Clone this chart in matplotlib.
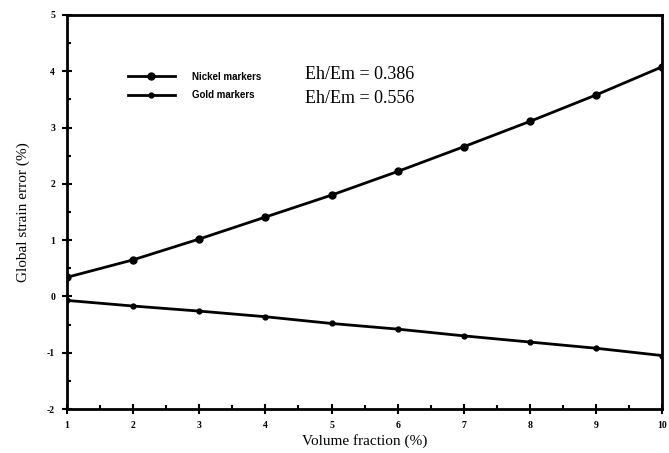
import numpy as np
import matplotlib.pyplot as plt
from matplotlib.ticker import MultipleLocator

plt.rcParams['axes.unicode_minus'] = False

# Data
volume_fraction = [1, 2, 3, 4, 5, 6, 7, 8, 9, 10]
nickel_error = [0.34, 0.65, 1.02, 1.41, 1.80, 2.22, 2.66, 3.11, 3.58, 4.08]
gold_error = [-0.07, -0.17, -0.26, -0.36, -0.48, -0.58, -0.70, -0.81, -0.92, -1.05]
ratio_labels = ['Eh/Em = 0.386', 'Eh/Em = 0.556']

fig = plt.figure(figsize=(6.69, 4.53), dpi=100)
ax = fig.add_axes([0.100, 0.097, 0.890, 0.870])

ax.plot(volume_fraction, nickel_error, color='black', lw=2.0,
        marker='o', ms=5, label='Nickel markers')
ax.plot(volume_fraction, gold_error, color='black', lw=2.0,
        marker='o', ms=3.5, label='Gold markers')

ax.set_xlim(1, 10)
ax.set_ylim(-2, 5)
ax.xaxis.set_major_locator(MultipleLocator(1))
ax.xaxis.set_minor_locator(MultipleLocator(0.5))
ax.yaxis.set_major_locator(MultipleLocator(1))
ax.yaxis.set_minor_locator(MultipleLocator(0.5))
ax.tick_params(which='major', direction='inout', length=7, width=1.5,
               labelsize=7, pad=5)
ax.tick_params(which='minor', direction='in', length=3, width=1.5)
for lab in ax.get_xticklabels() + ax.get_yticklabels():
    lab.set_fontweight('bold')
    lab.set_family('Liberation Serif')
for s in ax.spines.values():
    s.set_linewidth(2.0)

ax.set_xlabel('Volume fraction (%)', family='Liberation Serif', fontsize=11, labelpad=3)
ax.set_ylabel('Global strain error (%)', family='Liberation Serif', fontsize=11, labelpad=12)

leg = ax.legend(loc='center left', bbox_to_anchor=(0.088, 0.82), frameon=False,
                handlelength=4.8, handletextpad=1.8, labelspacing=0.9,
                prop={'family': 'Liberation Sans', 'weight': 'bold', 'size': 7})

ax.text(0.40, 0.848, ratio_labels[0], transform=ax.transAxes,
        family='Liberation Serif', fontsize=13, va='center')
ax.text(0.40, 0.788, ratio_labels[1], transform=ax.transAxes,
        family='Liberation Serif', fontsize=13, va='center')

fig.savefig('out.png', dpi=100)
